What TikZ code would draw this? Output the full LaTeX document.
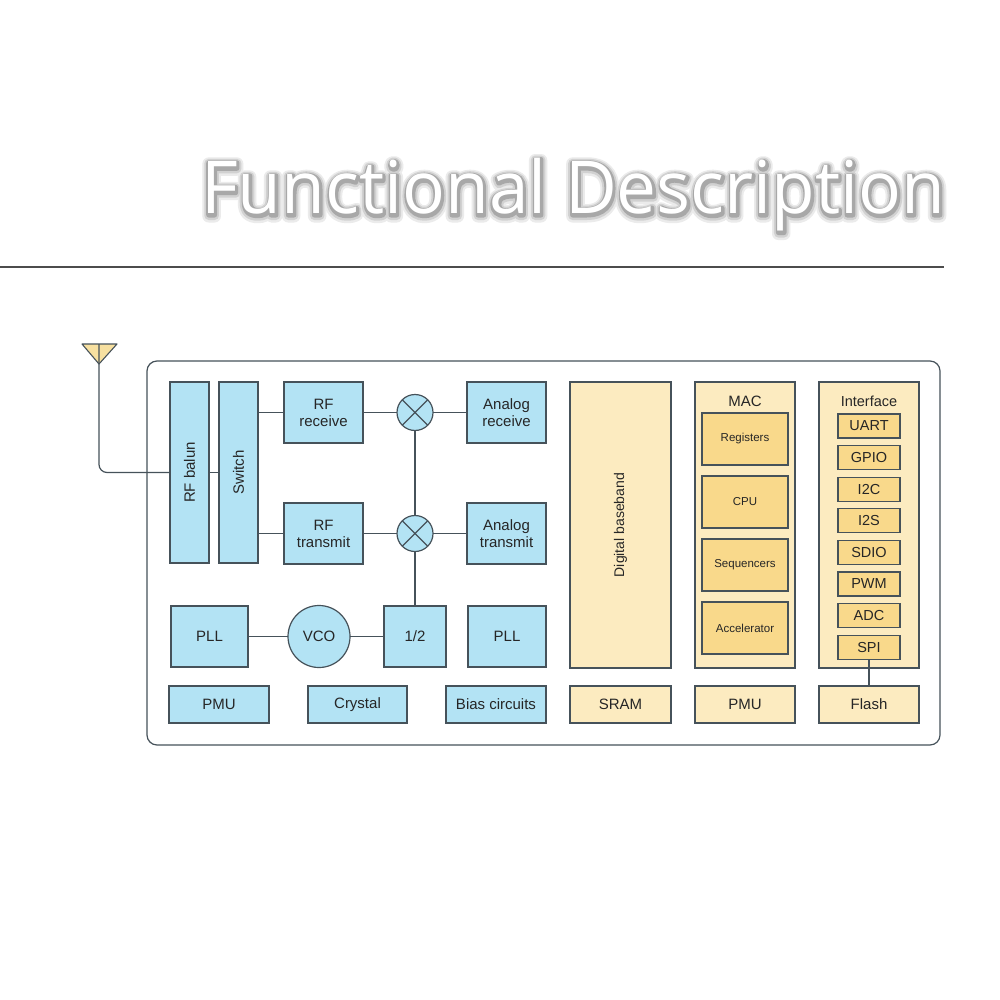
\documentclass[tikz,border=0pt]{standalone}
\usepackage{fontspec}
\setmainfont{Liberation Sans}
\newfontfamily\titlefont{Open Sans}
\usetikzlibrary{calc}
\definecolor{bluef}{HTML}{B3E3F4}
\definecolor{yelf}{HTML}{FCEBC0}
\definecolor{orgf}{HTML}{F9D98B}
\definecolor{bord}{HTML}{46525A}
\definecolor{antf}{HTML}{F7E0A0}
\tikzset{
  base/.style={draw=bord, line width=1.2pt, inner sep=0pt, outer sep=0pt, align=center, font=\fontsize{15}{17}\selectfont, text=black!85},
  bb/.style={base, fill=bluef},
  yb/.style={base, fill=yelf},
  ob/.style={base, fill=orgf, minimum width=86pt, minimum height=52pt, font=\fontsize{11.5}{13}\selectfont},
  ib/.style={base, fill=orgf, minimum width=62pt, minimum height=24pt, font=\fontsize{14.5}{16}\selectfont},
  wire/.style={draw=bord, line width=1.2pt},
  circ/.style={base, fill=bluef, circle},
  ttl/.style={anchor=base west, inner sep=0pt, font=\titlefont\fontsize{73}{80}\selectfont},
}
\newcommand{\glowtext}[2]{\scalebox{0.975}[1]{\special{pdf:literal direct 1 Tr 1 j #1 w #2 #2 #2 RG #2 #2 #2 rg}Functional Description\special{pdf:literal direct 0 Tr}}}
\begin{document}
\begin{tikzpicture}[x=1pt,y=-1pt]
\useasboundingbox (0,0) rectangle (1000,1000);
\fill[white] (0,0) rectangle (1000,1000);
% title with layered glow
\node[ttl, text=black!10] (glowa) at (201.5,216) {\glowtext{13}{0.92}};
\node[ttl, text=black!20] (glowb) at (201.5,215.5) {\glowtext{9}{0.82}};
\node[ttl, text=black!35] (glowc) at (201.5,215) {\glowtext{5}{0.66}};
\node[ttl, text=white] (title) at (201,214) {\scalebox{0.975}[1]{Functional Description}};
\coordinate (hl1) at (0,267);
\coordinate (hl2) at (944,267);
\draw[draw=black!70, line width=1.5pt] (hl1) -- (hl2);
% outer
\draw[draw=bord, line width=1.2pt, rounded corners=10pt] (147,361) rectangle (940,745);
% antenna
\coordinate (antL) at (82,344);
\coordinate (antR) at (117,344);
\coordinate (antT) at (99,344);
\coordinate (antA) at (99,364);
\draw[draw=bord, line width=1.1pt, fill=antf, line join=round] (antL) -- (antR) -- (antA) -- cycle;
% left blocks
\node[bb, rotate=90, minimum width=181pt, minimum height=39pt] (balun) at (189.5,472.5) {RF balun};
\node[bb, rotate=90, minimum width=181pt, minimum height=39pt] (switch) at (238.5,472.5) {Switch};
\draw[wire, rounded corners=8pt] (antT) |- (balun.north);
\node[bb, minimum width=79pt, minimum height=61pt] (rfrx) at (323.5,412.5) {RF\\receive};
\node[bb, minimum width=79pt, minimum height=61pt] (rftx) at (323.5,533.5) {RF\\transmit};
\node[bb, minimum width=79pt, minimum height=61pt] (anrx) at (506.5,412.5) {Analog\\receive};
\node[bb, minimum width=79pt, minimum height=61pt] (antx) at (506.5,533.5) {Analog\\transmit};
\node[circ, minimum size=36pt] (mix1) at (415,412.5) {};
\node[circ, minimum size=36pt] (mix2) at (415,533.5) {};
\draw[wire] (mix1.north west) -- (mix1.south east) (mix1.north east) -- (mix1.south west);
\draw[wire] (mix2.north west) -- (mix2.south east) (mix2.north east) -- (mix2.south west);
\node[bb, minimum width=77pt, minimum height=61pt] (pll1) at (209.5,636.5) {PLL};
\node[circ, minimum size=62pt] (vco) at (319,636.5) {VCO};
\node[bb, minimum width=62pt, minimum height=61pt] (half) at (415,636.5) {1/2};
\node[bb, minimum width=78pt, minimum height=61pt] (pll2) at (507,636.5) {PLL};
\node[bb, minimum width=100pt, minimum height=37pt] (pmu1) at (219,704.5) {PMU};
\node[bb, minimum width=99pt, minimum height=37pt] (crystal) at (357.5,704.5) {Crystal};
\node[bb, minimum width=100pt, minimum height=37pt] (bias) at (496,704.5) {Bias circuits};
% wires
\draw[wire] (balun.south) -- (switch.north);
\draw[wire] (switch.south |- rfrx.west) -- (rfrx.west);
\draw[wire] (switch.south |- rftx.west) -- (rftx.west);
\draw[wire] (rfrx.east) -- (mix1.west);
\draw[wire] (mix1.east) -- (anrx.west);
\draw[wire] (rftx.east) -- (mix2.west);
\draw[wire] (mix2.east) -- (antx.west);
\draw[wire] (mix1.south) -- (mix2.north);
\draw[wire] (mix2.south) -- (half.north);
\draw[wire] (pll1.east) -- (vco.west);
\draw[wire] (vco.east) -- (half.west);
% digital
\node[yb, rotate=90, minimum width=286pt, minimum height=101pt, font=\fontsize{14}{16}\selectfont] (dbb) at (620.5,525) {Digital baseband};
\node[yb, minimum width=101pt, minimum height=37pt] (sram) at (620.5,704.5) {SRAM};
\node[yb, minimum width=100pt, minimum height=286pt] (mac) at (745,525) {};
\node[font=\fontsize{15}{17}\selectfont, text=black!85, inner sep=0pt] (maclbl) at (745,401) {MAC};
\node[ob] (reg) at (745,439) {Registers};
\node[ob] (cpu) at (745,502) {CPU};
\node[ob] (seq) at (745,565) {Sequencers};
\node[ob] (acc) at (745,628) {Accelerator};
\node[yb, minimum width=100pt, minimum height=37pt] (pmu2) at (745,704.5) {PMU};
\node[yb, minimum width=100pt, minimum height=286pt] (intf) at (869,525) {};
\node[font=\fontsize{14.5}{17}\selectfont, text=black!85, inner sep=0pt] (intflbl) at (869,401) {Interface};
\node[ib] (uart) at (869,426) {UART};
\node[ib] (gpio) at (869,457.6) {GPIO};
\node[ib] (i2c) at (869,489.2) {I2C};
\node[ib] (i2s) at (869,520.8) {I2S};
\node[ib] (sdio) at (869,552.4) {SDIO};
\node[ib] (pwm) at (869,584) {PWM};
\node[ib] (adc) at (869,615.6) {ADC};
\node[ib] (spi) at (869,647.2) {SPI};
\node[yb, minimum width=100pt, minimum height=37pt] (flash) at (869,704.5) {Flash};
\draw[wire] (spi.south) -- (flash.north);
\end{tikzpicture}
\end{document}
